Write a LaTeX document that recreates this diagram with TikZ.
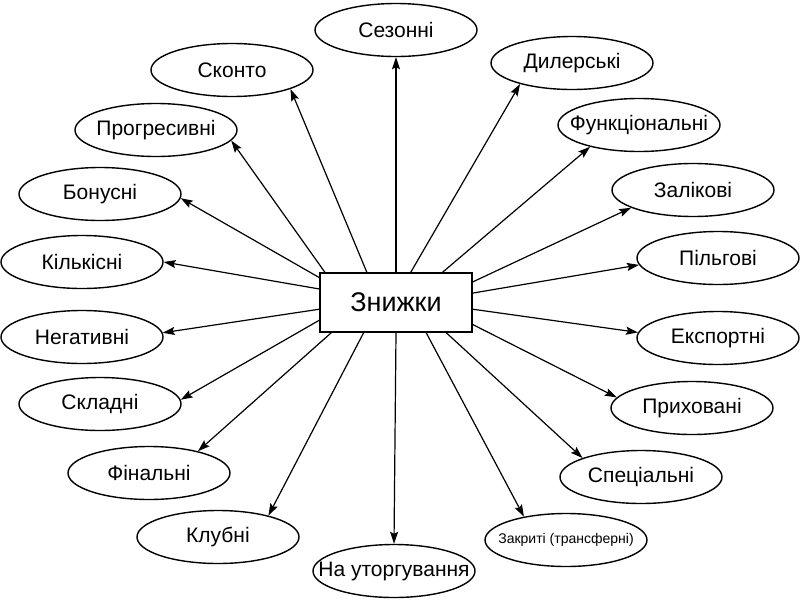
\documentclass[tikz,border=0pt]{standalone}
\usepackage{fontspec}
\setmainfont{Liberation Sans}
\usetikzlibrary{arrows.meta,shapes.geometric}
\newcommand{\kindtext}[1]{\makebox[0pt]{#1}}
\begin{document}
\begin{tikzpicture}[x=1pt,y=-1pt,
  kind/.style={draw,ellipse,line width=1.4pt,minimum width=162pt,
    minimum height=53pt,inner sep=0pt,font=\fontsize{21}{25}\selectfont},
  spoke/.style={line width=1.2pt,-{Stealth[length=12pt,width=8pt,inset=2pt]}}]
  \useasboundingbox (0,0) rectangle (800,600);
  \node[draw,line width=1.3pt,minimum width=152pt,minimum height=59pt,
    font=\fontsize{27}{32}\selectfont] (c) at (396,302.5) {Знижки};
  % upper and right ring
  \node[kind] (sez) at (396,30)  {\kindtext{Сезонні}};
  \node[kind] (dil) at (572,63)  {\kindtext{Дилерські}};
  \node[kind] (fun) at (639,125) {\kindtext{Функціональні}};
  \node[kind] (zal) at (693,190) {\kindtext{Залікові}};
  \node[kind] (pil) at (718,258) {\kindtext{Пільгові}};
  \node[kind] (eks) at (718,338) {\kindtext{Експортні}};
  \node[kind] (prh) at (692,408) {\kindtext{Приховані}};
  \node[kind] (spc) at (641,477) {\kindtext{Спеціальні}};
  \node[kind,font=\fontsize{14}{17}\selectfont] (zak) at (566,540) {\kindtext{Закриті (трансферні)}};
  \node[kind] (tor) at (394,571) {\kindtext{На уторгування}};
  % left ring
  \node[kind] (klb) at (218,537) {\kindtext{Клубні}};
  \node[kind] (fin) at (149,473) {\kindtext{Фінальні}};
  \node[kind] (skl) at (100,404) {\kindtext{Складні}};
  \node[kind] (neg) at (82,337)  {\kindtext{Негативні}};
  \node[kind] (kil) at (82,262)  {\kindtext{Кількісні}};
  \node[kind] (bon) at (100,194) {\kindtext{Бонусні}};
  \node[kind] (prg) at (156,130) {\kindtext{Прогресивні}};
  \node[kind] (skn) at (232,70)  {\kindtext{Сконто}};
  % spokes
  \draw[spoke] (c.north) -- (sez.south);
  \draw[spoke] (c.64.6) -- (dil.-158);
  \draw[spoke] (c.33.8) -- (fun.-156);
  \draw[spoke] (c.15.1) -- (zal.-164);
  \draw[spoke] (c.7.9) -- (pil.-175);
  \draw[spoke] (c.-5.6) -- (eks.176);
  \draw[spoke] (c.-16.5) -- (prh.172);
  \draw[spoke] (c.-31) -- (spc.162);
  \draw[spoke] (c.-45.5) -- (zak.151);
  \draw[spoke] (c.south) -- (tor.north);
  \draw[spoke] (c.223.6) -- (klb.23);
  \draw[spoke] (c.205.8) -- (fin.24);
  \draw[spoke] (c.193) -- (skl.3);
  \draw[spoke] (c.185.6) -- (neg.3);
  \draw[spoke] (c.170.7) -- (kil.0);
  \draw[spoke] (c.162) -- (bon.-3);
  \draw[spoke] (c.157.4) -- (prg.-8);
  \draw[spoke] (c.134.5) -- (skn.-18);
\end{tikzpicture}
\end{document}
